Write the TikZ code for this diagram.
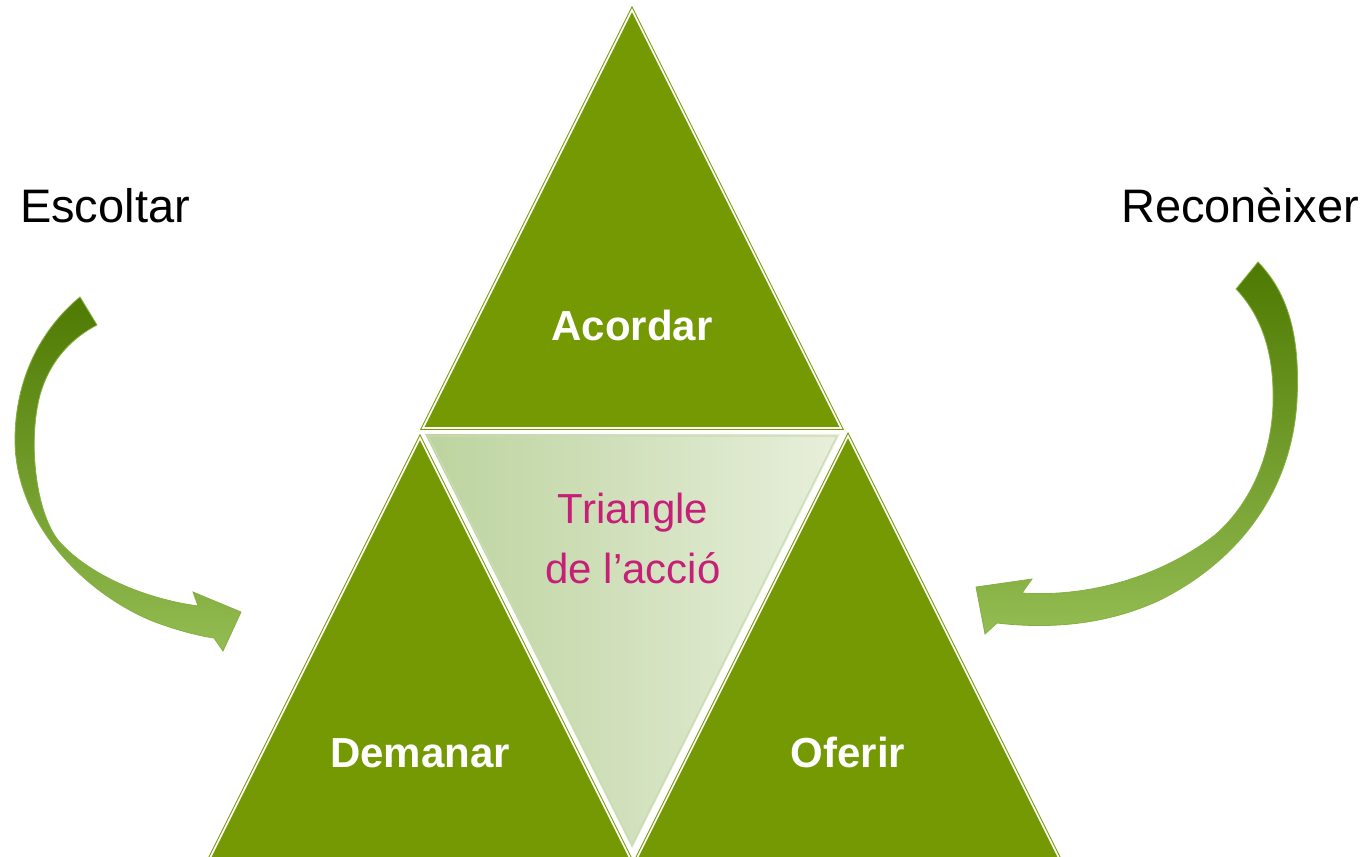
\documentclass[tikz,border=0pt]{standalone}
\usepackage{fontspec}
\setmainfont{Liberation Sans}
\definecolor{tgreen}{HTML}{759903}
\definecolor{adark}{HTML}{4E7A02}
\definecolor{alight}{HTML}{93BC52}
\definecolor{invl}{HTML}{BCD39E}
\definecolor{invr}{HTML}{E8EFDC}
\definecolor{invedge}{HTML}{C9DCB2}
\definecolor{magtext}{HTML}{C61F78}
\begin{document}
\begin{tikzpicture}[x=0.5pt,y=-0.5pt,
  tri/.style={fill=tgreen, draw=tgreen, line width=0.5pt, double=white, double distance=0.8pt, line join=miter},
  arrowshape/.style={top color=adark, bottom color=alight, draw=alight!80!adark, line width=0.4pt},
  lbl/.style={font=\fontsize{23.5}{28}\selectfont, text=black, anchor=base, inner sep=0pt},
  tlbl/.style={font=\fontsize{21}{25}\selectfont\bfseries, text=white, anchor=base, inner sep=0pt},
  mlbl/.style={font=\fontsize{21}{25}\selectfont, text=magtext, anchor=base, inner sep=0pt}]
\useasboundingbox (0,0) rectangle (1368,856);
\begin{scope}
\clip (0,0) rectangle (1368,856);
% triangles
\path[tri] (632,10) -- (841,428) -- (423,428) -- cycle;
\path[tri] (420,438) -- (631,860) -- (209,860) -- cycle;
\path[tri] (848,436) -- (1060,860) -- (636,860) -- cycle;
\shade[left color=invl, right color=invr] (425,434) -- (840,434) -- (632,848) -- cycle;
\draw[invedge, line width=0.6pt, line join=miter] (428,436) -- (837,436) -- (632,845) -- cycle;
% left arrow
\path[arrowshape] (80,297)
  .. controls (40,330) and (15,380) .. (15,440)
  .. controls (15,520) and (80,590) .. (150,620)
  .. controls (175,630) and (200,636) .. (214,638)
  -- (223,651) -- (241,612) -- (193,592) -- (198,606)
  .. controls (140,598) and (85,572) .. (58,540)
  .. controls (35,510) and (28,440) .. (40,395)
  .. controls (50,360) and (72,338) .. (97,325) -- cycle;
% right arrow
\path[arrowshape] (1258,262)
  .. controls (1290,295) and (1300,340) .. (1297,400)
  .. controls (1292,490) and (1240,560) .. (1160,600)
  .. controls (1100,628) and (1040,628) .. (997,623)
  -- (985,634) -- (976,587) -- (1032,579) -- (1022,593)
  .. controls (1100,598) and (1170,570) .. (1215,535)
  .. controls (1255,500) and (1275,445) .. (1273,390)
  .. controls (1272,345) and (1258,312) .. (1236,289) -- cycle;
\end{scope}
% labels
\node[lbl] (escoltar) at (105,222) {Escoltar};
\node[lbl] (reconeixer) at (1240,222) {Reconèixer};
\node[tlbl] (acordar) at (632,340) {Acordar};
\node[tlbl] (demanar) at (420,767) {Demanar};
\node[tlbl] (oferir) at (848,767) {Oferir};
\node[mlbl] (triangle) at (633,523) {Triangle};
\node[mlbl] (accio) at (633,583) {de l’acció};
\end{tikzpicture}
\end{document}
